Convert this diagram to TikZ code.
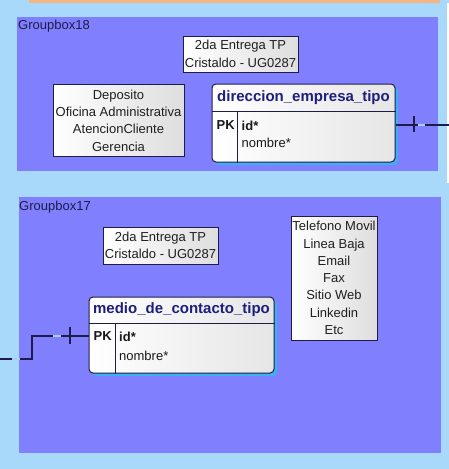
\documentclass[tikz,border=0pt]{standalone}
\usepackage{fontspec}
\setmainfont{Liberation Sans}
\usetikzlibrary{calc,shadows}
\definecolor{bgblue}{RGB}{168,216,250}
\definecolor{grpblue}{RGB}{128,128,255}
\definecolor{orangebar}{RGB}{244,180,132}
\definecolor{navy}{RGB}{28,28,70}
\definecolor{hdrblue}{RGB}{30,30,125}
\definecolor{shadowcyan}{RGB}{64,174,245}
\definecolor{lightdash}{RGB}{165,205,245}
\tikzset{
  groupbox/.style={fill=grpblue, draw=none},
  grouplabel/.style={anchor=west, inner sep=0pt, text=navy, font=\fontsize{13}{15}\selectfont},
  notebox/.style={draw=navy, line width=0.9pt, left color=white, right color=black!13, inner sep=0pt, align=center, text=black!88, font=\fontsize{13}{17.3}\selectfont},
  tablebox/.style={draw=navy, line width=1pt, rounded corners=4pt, left color=white, right color=black!10, inner sep=0pt,
     drop shadow={shadow xshift=3pt, shadow yshift=-3pt, fill=shadowcyan, opacity=1}},
  tablehdr/.style={inner sep=0pt, text=hdrblue, font=\fontsize{15}{17}\selectfont\bfseries},
  tablerow/.style={anchor=west, inner sep=0pt, text=black!90, font=\fontsize{13}{15}\selectfont},
  tablekey/.style={tablerow, font=\fontsize{13}{15}\selectfont\bfseries},
  tableline/.style={draw=navy, line width=1pt},
  conn/.style={draw=navy, line width=1.3pt},
  lightseg/.style={draw=lightdash, line width=1.3pt},
}
\begin{document}
\begin{tikzpicture}[x=1pt,y=-1pt]
\useasboundingbox (0,0) rectangle (449,469);
% background
\fill[bgblue] (0,0) rectangle (449,469);
\fill[white] (447,3) rectangle (449,183);
\fill[orangebar] (29,0) rectangle (440,2.5);
% group boxes
\node[groupbox, minimum width=421pt, minimum height=154pt, inner sep=0pt] (g18) at (227.5,94) {};
\node[groupbox, minimum width=422pt, minimum height=256pt, inner sep=0pt] (g17) at (230,325) {};
\node[grouplabel] (g18l) at (18,26) {Groupbox18};
\node[grouplabel] (g17l) at (19,207) {Groupbox17};
% notes in group 18
\node[notebox, minimum width=115pt, minimum height=36pt] (n1) at (240.5,54) {2da Entrega TP\\Cristaldo - UG0287};
\node[notebox, minimum width=131pt, minimum height=72pt] (n2) at (118.5,120.5) {Deposito\\Oficina Administrativa\\AtencionCliente\\Gerencia};
% table direccion_empresa_tipo
\node[tablebox, minimum width=183pt, minimum height=78pt] (dir) at (303.5,123) {};
\draw[tableline] ($(dir.north west)+(0,28)$) -- ($(dir.north east)+(0,28)$);
\draw[tableline] ($(dir.north west)+(26,28)$) -- ($(dir.south west)+(26,0)$);
\node[tablehdr] (dirh) at ($(dir.north)+(0,14)$) {direccion\_empresa\_tipo};
\node[tablekey] (dirpk) at ($(dir.north west)+(5,42)$) {PK};
\node[tablekey] (dirid) at ($(dir.north west)+(30,42)$) {id*};
\node[tablerow] (dirnm) at ($(dir.north west)+(30,59)$) {nombre*};
% notes in group 17
\node[notebox, minimum width=115pt, minimum height=37pt] (n3) at (160.5,245.5) {2da Entrega TP\\Cristaldo - UG0287};
\node[notebox, minimum width=86pt, minimum height=124pt] (n4) at (334,278) {Telefono Movil\\Linea Baja\\Email\\Fax\\Sitio Web\\Linkedin\\Etc};
% table medio_de_contacto_tipo
\node[tablebox, minimum width=185pt, minimum height=76pt] (med) at (181.5,335) {};
\draw[tableline] ($(med.north west)+(0,27)$) -- ($(med.north east)+(0,27)$);
\draw[tableline] ($(med.north west)+(27,27)$) -- ($(med.south west)+(27,0)$);
\node[tablehdr] (medh) at ($(med.north)+(0,13.5)$) {medio\_de\_contacto\_tipo};
\node[tablekey] (medpk) at ($(med.north west)+(5,40)$) {PK};
\node[tablekey] (medid) at ($(med.north west)+(30.5,40)$) {id*};
\node[tablerow] (mednm) at ($(med.north west)+(30.5,59)$) {nombre*};
% connector from direccion_empresa_tipo
\coordinate (e1) at (449,125);
\draw[conn] (dir.east |- e1) -- (e1);
\draw[lightseg] (418,125) -- (425,125);
\draw[conn] (414,116) -- (414,132);
% connector to medio_de_contacto_tipo
\coordinate (e2) at (0,359);
\coordinate (k1) at (32,359);
\coordinate (k2) at (32,336);
\draw[conn] (e2) -- (k1) -- (k2) -- (med.west |- k2);
\draw[lightseg] (12,359) -- (20,359);
\draw[lightseg] (53,336) -- (61,336);
\draw[conn] (70,327) -- (70,344);
\end{tikzpicture}
\end{document}
